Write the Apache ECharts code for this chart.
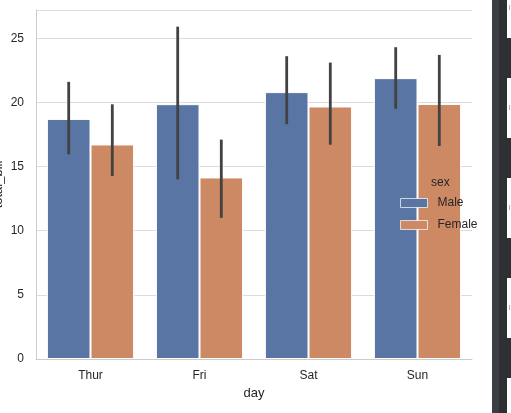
<!DOCTYPE html>
<html>
<head>
<meta charset="utf-8">
<script src="https://cdn.jsdelivr.net/npm/echarts@6/dist/echarts.min.js"></script>
<style>
html,body{margin:0;padding:0;background:#fff;}
#chart{width:511px;height:413px;}
</style>
</head>
<body>
<div id="chart"></div>
<script>
const days = ['Thur', 'Fri', 'Sat', 'Sun'];
const maleMean = [18.71, 19.86, 20.80, 21.89];
const femaleMean = [16.72, 14.15, 19.68, 19.87];
const maleLow = [15.95, 14.0, 18.3, 19.5];
const maleHigh = [21.6, 25.9, 23.6, 24.3];
const femaleLow = [14.26, 11.0, 16.7, 16.6];
const femaleHigh = [19.85, 17.1, 23.1, 23.7];
const yTicks = [0, 5, 10, 15, 20, 25];

const chart = echarts.init(document.getElementById('chart'), null, {renderer: 'canvas'});
const FONT = 'Liberation Sans, Arial, sans-serif';
const TXT = '#262626';
const BLUE = '#5875a4';
const ORANGE = '#cc8963';

function errSeries(name, low, high, side) {
  return {
    type: 'custom',
    name: name + '_err',
    z: 5,
    silent: true,
    encode: {x: 0, y: [1, 2]},
    data: days.map((d, i) => [i, low[i], high[i]]),
    renderItem: function (params, api) {
      const band = api.size([1, 0])[0];
      const p1 = api.coord([api.value(0), api.value(1)]);
      const p2 = api.coord([api.value(0), api.value(2)]);
      const x = p1[0] + side * band * 0.2;
      return {
        type: 'line',
        shape: {x1: x, y1: p1[1], x2: x, y2: p2[1]},
        style: {stroke: '#424242', lineWidth: 2.8, lineCap: 'butt'}
      };
    }
  };
}

const stripeRects = [];
stripeRects.push({type: 'rect', shape: {x: 492, y: 0, width: 7, height: 413}, style: {fill: '#3b3e42'}, silent: true});
stripeRects.push({type: 'rect', shape: {x: 499, y: 0, width: 8, height: 413}, style: {fill: '#2e3033'}, silent: true});
[38, 138, 238, 338].forEach(y0 => {
  stripeRects.push({type: 'rect', shape: {x: 507, y: y0, width: 4, height: 40}, style: {fill: '#2e3033'}, silent: true});
});
[5, 105, 205, 305].forEach(y0 => {
  stripeRects.push({type: 'rect', shape: {x: 509, y: y0, width: 1, height: 5}, style: {fill: '#b0b0b0'}, silent: true});
});

chart.setOption({
  animation: false,
  backgroundColor: '#fff',
  grid: {left: 36, right: 39, top: 10, bottom: 54, containLabel: false, outerBoundsMode: 'none'},
  legend: {
    data: [
      {name: 'Male', itemStyle: {color: BLUE, borderColor: 'rgba(255,255,255,0.7)', borderWidth: 1}},
      {name: 'Female', itemStyle: {color: ORANGE, borderColor: 'rgba(255,255,255,0.7)', borderWidth: 1}}
    ],
    orient: 'vertical',
    left: 400,
    top: 197,
    itemWidth: 27,
    itemHeight: 9,
    itemGap: 10,
    icon: 'rect',
    padding: 0,
    textStyle: {fontFamily: FONT, fontSize: 12, color: TXT, padding: [0, 0, 0, 5]}
  },
  graphic: [
    {type: 'text', left: 431, top: 177, style: {text: 'sex', font: '12px ' + FONT, fill: TXT}, z: 10}
  ].concat(stripeRects),
  xAxis: {
    type: 'category',
    data: days,
    name: 'day',
    nameLocation: 'middle',
    nameGap: 28,
    nameMoveOverlap: false,
    nameTextStyle: {fontFamily: FONT, fontSize: 13, color: TXT},
    axisLine: {show: true, lineStyle: {color: '#cccccc', width: 1}},
    axisTick: {show: false},
    axisLabel: {fontFamily: FONT, fontSize: 12, color: TXT, margin: 11},
    splitLine: {show: false}
  },
  yAxis: {
    type: 'value',
    min: 0,
    max: 27.2,
    interval: 5,
    name: 'total_bill',
    nameLocation: 'middle',
    nameGap: 31,
    nameMoveOverlap: false,
    nameTextStyle: {fontFamily: FONT, fontSize: 13, color: TXT},
    axisLine: {show: true, lineStyle: {color: '#cccccc', width: 1}},
    axisTick: {show: false},
    axisLabel: {
      fontFamily: FONT, fontSize: 12, color: TXT, margin: 12,
      formatter: v => (yTicks.indexOf(v) >= 0 ? String(v) : '')
    },
    splitLine: {show: true, lineStyle: {color: '#dcdcdc', width: 1}}
  },
  series: [
    {
      type: 'bar', name: 'Male', data: maleMean,
      barGap: '0%', barCategoryGap: '20%',
      itemStyle: {color: BLUE, borderColor: '#ffffff', borderWidth: 1}
    },
    {
      type: 'bar', name: 'Female', data: femaleMean,
      barGap: '0%', barCategoryGap: '20%',
      itemStyle: {color: ORANGE, borderColor: '#ffffff', borderWidth: 1}
    },
    errSeries('Male', maleLow, maleHigh, -1),
    errSeries('Female', femaleLow, femaleHigh, 1)
  ]
});
</script>
</body>
</html>
